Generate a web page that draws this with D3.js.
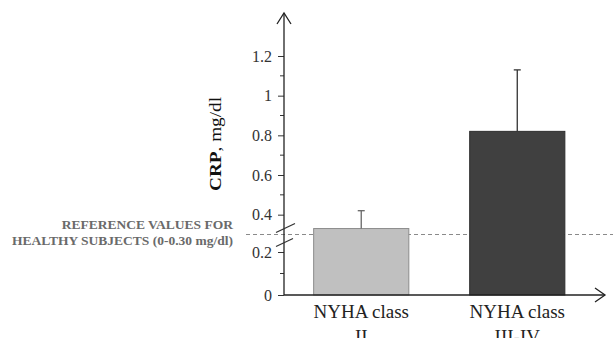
<!DOCTYPE html>
<html>
<head>
<meta charset="utf-8">
<script src="https://d3js.org/d3.v7.min.js"></script>
<style>
  body { margin: 0; background: #fff; }
  svg text { font-family: "Liberation Serif", "Times New Roman", serif; }
</style>
</head>
<body>
<div id="chart"></div>
<script>
// data
var groups = ["NYHA class II", "NYHA class III-IV"];
var groupLines = [["NYHA class", "II"], ["NYHA class", "III-IV"]];
var means = [0.33, 0.82];
var sds = [0.09, 0.31];
var majorTicks = [0, 0.2, 0.4, 0.6, 0.8, 1, 1.2];
var minorTicks = [0.1, 0.5, 0.7, 0.9, 1.1];
var refValue = 0.30;
var refLines = ["REFERENCE VALUES FOR", "HEALTHY SUBJECTS (0-0.30 mg/dl)"];
var barFill = ["#c0c0c0", "#404040"];
var barStroke = ["#8c8c8c", "#2e2e2e"];

var width = 613, height = 338;
var serif = "'Liberation Serif', 'Times New Roman', serif";

var svg = d3.select("#chart").append("svg")
  .attr("width", width)
  .attr("height", height);

// broken axis: lower part 0-0.2, upper part from 0.3 on
var y = d3.scaleLinear()
  .domain([0, 0.2, 0.3, 1.2])
  .range([295, 252, 234.5, 56]);

var axisX = 284;

var x = d3.scaleBand()
  .domain(groups)
  .range([axisX, 594.5])
  .paddingInner(0.39)
  .paddingOuter(0.19);

// reference dashed line
svg.append("line")
  .attr("x1", 246).attr("x2", width)
  .attr("y1", y(refValue)).attr("y2", y(refValue))
  .attr("stroke", "#8a8a8a")
  .attr("stroke-width", 1)
  .attr("stroke-dasharray", "4,3");

// bars
svg.selectAll("rect.bar")
  .data(groups)
  .enter().append("rect")
  .attr("class", "bar")
  .attr("x", function(d) { return x(d); })
  .attr("y", function(d, i) { return y(means[i]); })
  .attr("width", x.bandwidth())
  .attr("height", function(d, i) { return y(0) - y(means[i]); })
  .attr("fill", function(d, i) { return barFill[i]; })
  .attr("stroke", function(d, i) { return barStroke[i]; })
  .attr("stroke-width", 1);

// error bars (upper only)
var err = svg.selectAll("g.err")
  .data(groups)
  .enter().append("g")
  .attr("class", "err")
  .attr("stroke", function(d, i) { return i == 0 ? "#666" : "#333"; })
  .attr("stroke-width", 1.3);

err.append("line")
  .attr("x1", function(d) { return x(d) + x.bandwidth() / 2; })
  .attr("x2", function(d) { return x(d) + x.bandwidth() / 2; })
  .attr("y1", function(d, i) { return y(means[i]); })
  .attr("y2", function(d, i) { return y(means[i] + sds[i]); });

err.append("line")
  .attr("x1", function(d) { return x(d) + x.bandwidth() / 2 - 3.5; })
  .attr("x2", function(d) { return x(d) + x.bandwidth() / 2 + 3.5; })
  .attr("y1", function(d, i) { return y(means[i] + sds[i]); })
  .attr("y2", function(d, i) { return y(means[i] + sds[i]); });

// y axis
var yAxis = d3.axisLeft(y)
  .tickValues(majorTicks)
  .tickSize(6)
  .tickPadding(6)
  .tickFormat(function(d) { return d3.format("~g")(d); });

var gy = svg.append("g")
  .attr("transform", "translate(" + axisX + ",0)")
  .call(yAxis)
  .attr("font-family", serif);
gy.select(".domain").remove();
gy.selectAll("line").attr("stroke", "#333");
gy.selectAll("text")
  .attr("font-size", 16)
  .attr("fill", "#333");

svg.append("g")
  .attr("transform", "translate(" + axisX + ",0)")
  .selectAll("line")
  .data(minorTicks)
  .enter().append("line")
  .attr("x1", -4).attr("x2", 0)
  .attr("y1", function(d) { return y(d); })
  .attr("y2", function(d) { return y(d); })
  .attr("stroke", "#333");

// axis lines with open arrowheads
svg.append("line")
  .attr("x1", axisX).attr("x2", axisX)
  .attr("y1", y(0)).attr("y2", 13)
  .attr("stroke", "#222").attr("stroke-width", 1.3);
svg.append("path")
  .attr("d", "M" + (axisX - 7) + ",24 L" + axisX + ",13 L" + (axisX + 7) + ",24")
  .attr("fill", "none").attr("stroke", "#222").attr("stroke-width", 1.3);

svg.append("line")
  .attr("x1", axisX).attr("x2", 605)
  .attr("y1", y(0)).attr("y2", y(0))
  .attr("stroke", "#222").attr("stroke-width", 1.3);
svg.append("path")
  .attr("d", "M595," + (y(0) - 7) + " L605," + y(0) + " L595," + (y(0) + 7))
  .attr("fill", "none").attr("stroke", "#222").attr("stroke-width", 1.3);

// axis break marks
var yb = y(refValue);
svg.append("line")
  .attr("x1", axisX - 8).attr("x2", axisX + 11)
  .attr("y1", yb - 2).attr("y2", yb - 11)
  .attr("stroke", "#333").attr("stroke-width", 1.3);
svg.append("line")
  .attr("x1", axisX - 8).attr("x2", axisX + 9)
  .attr("y1", yb + 12).attr("y2", yb + 4)
  .attr("stroke", "#333").attr("stroke-width", 1.3);

// y axis title
var yt = svg.append("text")
  .attr("transform", "translate(221,144) rotate(-90)")
  .attr("text-anchor", "middle")
  .attr("font-family", serif)
  .attr("font-size", 16)
  .attr("fill", "#111")
  .attr("textLength", 94)
  .attr("lengthAdjust", "spacingAndGlyphs");
yt.append("tspan").attr("font-weight", "bold").text("CRP");
yt.append("tspan").text(", mg/dl");

// category labels
var lab = svg.selectAll("text.cat")
  .data(groups)
  .enter().append("text")
  .attr("class", "cat")
  .attr("text-anchor", "middle")
  .attr("font-family", serif)
  .attr("font-size", 19)
  .attr("fill", "#222");
lab.append("tspan")
  .attr("x", function(d) { return x(d) + x.bandwidth() / 2; })
  .attr("y", 318)
  .text(function(d, i) { return groupLines[i][0]; });
lab.append("tspan")
  .attr("x", function(d) { return x(d) + x.bandwidth() / 2; })
  .attr("y", 343)
  .text(function(d, i) { return groupLines[i][1]; });

// reference values note
svg.selectAll("text.ref")
  .data(refLines)
  .enter().append("text")
  .attr("class", "ref")
  .attr("x", 233)
  .attr("y", function(d, i) { return 229 + i * 16; })
  .attr("text-anchor", "end")
  .attr("font-family", serif)
  .attr("font-size", 13.5)
  .attr("font-weight", "bold")
  .attr("fill", "#6a6a6a")
  .text(function(d) { return d; });
</script>
</body>
</html>
